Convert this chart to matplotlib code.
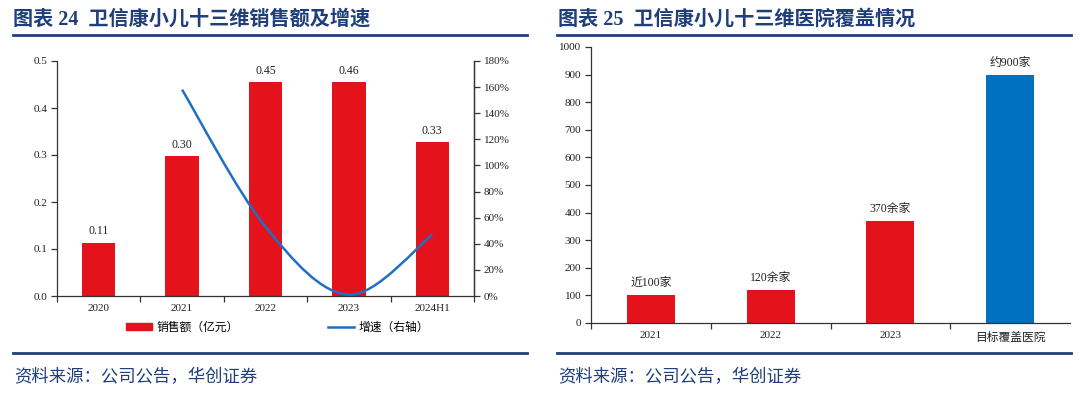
import matplotlib.pyplot as plt
from matplotlib.path import Path
from matplotlib.patches import PathPatch, Patch
from matplotlib.lines import Line2D
import numpy as np

# left chart: sales (100m yuan) and growth
years_sales = ["2020", "2021", "2022", "2023", "2024H1"]
sales = [0.113, 0.297, 0.455, 0.455, 0.327]
sales_labels = ["0.11", "0.30", "0.45", "0.46", "0.33"]
growth_years = ["2021", "2022", "2023", "2024H1"]
growth = [158, 53, 1, 47]

# right chart: hospital coverage
hosp_cats = ["2021", "2022", "2023", "目标覆盖医院"]
hospitals = [100, 120, 370, 900]
hosp_labels = ["近100家", "120余家", "370余家", "约900家"]

RED = "#E3121B"
BLUE_BAR = "#0070C0"
BLUE_LINE = "#1F6FC5"
NAVY = "#1F3E7A"
AXC = "#333333"
SERIF = ["Liberation Serif", "Noto Sans CJK SC"]
SANS = ["Noto Sans CJK SC", "DejaVu Sans"]

plt.rcParams["font.family"] = SERIF

fig = plt.figure(figsize=(10.8, 3.96), dpi=100)


def style_axis(ax):
    for s in ax.spines.values():
        s.set_color(AXC)
        s.set_linewidth(0.9)
    ax.spines["top"].set_visible(False)
    ax.tick_params(axis="y", length=4, width=0.9, color=AXC, labelsize=8, labelcolor="#222", pad=3)
    ax.tick_params(axis="x", which="major", length=0, labelsize=8, labelcolor="#222", pad=6)
    ax.tick_params(axis="x", which="minor", length=4, width=0.9, color=AXC, direction="out")


# ---------- left chart ----------
ax = fig.add_axes([57 / 1080, 1 - 296 / 396, 417 / 1080, 235 / 396])
x = np.arange(len(years_sales))
ax.bar(x, sales, width=0.4, color=RED, zorder=2)
for xi, v, lab in zip(x, sales, sales_labels):
    ax.text(xi, v + 0.012, lab, ha="center", va="bottom", fontsize=8.5, color="#222")
ax.set_xlim(-0.5, len(years_sales) - 0.5)
ax.set_ylim(0, 0.5)
ax.set_yticks(np.arange(0, 0.51, 0.1))
ax.set_yticklabels([f"{v:.1f}" for v in np.arange(0, 0.51, 0.1)])
ax.set_xticks(x)
ax.set_xticklabels(years_sales)
ax.set_xticks(np.arange(-0.5, len(years_sales), 1), minor=True)
style_axis(ax)
ax.spines["right"].set_visible(True)

ax2 = ax.twinx()
ax2.set_ylim(0, 180)
ax2.set_yticks(np.arange(0, 181, 20))
ax2.set_yticklabels([f"{v}%" for v in range(0, 181, 20)])
style_axis(ax2)
ax2.spines["left"].set_visible(False)
ax2.spines["bottom"].set_visible(False)

# smoothed line (Excel style bezier through the points)
gx = [years_sales.index(y) for y in growth_years]
pts = list(zip(gx, growth))
verts = [pts[0]]
codes = [Path.MOVETO]
for i in range(len(pts) - 1):
    p0 = pts[i - 1] if i > 0 else pts[i]
    p1 = pts[i]
    p2 = pts[i + 1]
    p3 = pts[i + 2] if i + 2 < len(pts) else pts[i + 1]
    c1 = (p1[0] + (p2[0] - p0[0]) / 6, p1[1] + (p2[1] - p0[1]) / 6)
    c2 = (p2[0] - (p3[0] - p1[0]) / 6, p2[1] - (p3[1] - p1[1]) / 6)
    verts += [c1, c2, p2]
    codes += [Path.CURVE4] * 3
ax2.add_patch(PathPatch(Path(verts, codes), fill=False, edgecolor=BLUE_LINE, lw=1.8, zorder=3))

handles = [Patch(facecolor=RED, edgecolor=RED),
           Line2D([], [], color=BLUE_LINE, lw=1.8)]
fig.legend(handles, ["销售额（亿元）", "增速（右轴）"], loc="center",
           bbox_to_anchor=(0.257, 1 - 327 / 396), ncol=2, frameon=False,
           prop={"family": SANS, "size": 8.5}, handlelength=2.2, handleheight=0.6,
           handletextpad=0.4, columnspacing=7.5)

# ---------- right chart ----------
bx = fig.add_axes([591 / 1080, 1 - 323 / 396, 479 / 1080, 276 / 396])
xh = np.arange(len(hosp_cats))
colors = [RED, RED, RED, BLUE_BAR]
bx.bar(xh, hospitals, width=0.4, color=colors, zorder=2)
for xi, v, lab in zip(xh, hospitals, hosp_labels):
    bx.text(xi, v + 22, lab, ha="center", va="bottom", fontsize=8.5, color="#222", family=SERIF)
bx.set_xlim(-0.5, len(hosp_cats) - 0.5)
bx.set_ylim(0, 1000)
bx.set_yticks(np.arange(0, 1001, 100))
bx.set_xticks(xh)
bx.set_xticklabels(hosp_cats)
bx.set_xticks(np.arange(-0.5, len(hosp_cats) - 0.5, 1), minor=True)
style_axis(bx)
bx.spines["right"].set_visible(False)
bx.get_xticklabels()[-1].set_family(SANS)
bx.get_xticklabels()[-1].set_fontsize(8.5)

# ---------- titles, rules, sources ----------
title_kw = dict(fontsize=14.5, fontweight="bold", color=NAVY, va="center", ha="left")
fig.text(13 / 1080, 1 - 20 / 396, "图表 24  卫信康小儿十三维销售额及增速", **title_kw)
fig.text(558 / 1080, 1 - 20 / 396, "图表 25  卫信康小儿十三维医院覆盖情况", **title_kw)

for x0, x1 in [(13, 527), (557, 1071)]:
    for yy in (35, 353):
        fig.add_artist(Line2D([x0 / 1080, x1 / 1080], [1 - yy / 396, 1 - yy / 396],
                              color=NAVY, lw=2.0))

src_kw = dict(fontsize=12.5, color=NAVY, style="italic", va="center", ha="left", family=SANS)
fig.text(14 / 1080, 1 - 377 / 396, "资料来源：公司公告，华创证券", **src_kw)
fig.text(558 / 1080, 1 - 377 / 396, "资料来源：公司公告，华创证券", **src_kw)

fig.savefig("out.png", dpi=100)
